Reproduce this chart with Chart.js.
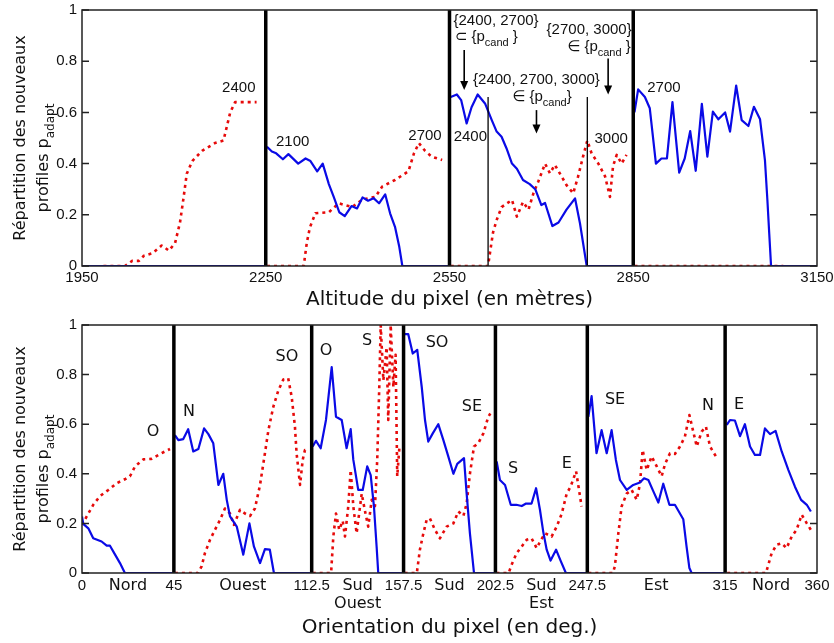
<!DOCTYPE html>
<html>
<head>
<meta charset="utf-8">
<script src="https://cdn.jsdelivr.net/npm/chart.js@4.4.0/dist/chart.umd.min.js"></script>
<style>
  body { margin: 0; background: #fff; }
  canvas { display: block; }
</style>
</head>
<body>
<canvas id="altChart" width="834" height="316"></canvas>
<canvas id="orientChart" width="834" height="327"></canvas>
<script>
// ---- altitude chart (top) ----
const altTicks = [1950, 2250, 2550, 2850, 3150];
const altDividers = [2250, 2550, 2850];
const altThinLines = [2613, 2775];
const altThinTop = 0.66;

const altBlueX = [1950, 2249, 2250,
  2252, 2260, 2267, 2278, 2287, 2303, 2315, 2323, 2334, 2343, 2353, 2361, 2370, 2379, 2390, 2399, 2408, 2417, 2426, 2435, 2445, 2453, 2461, 2468, 2473, 2549, 2550,
  2552, 2562, 2569, 2578, 2586, 2596, 2608, 2619, 2627, 2635, 2643, 2652, 2660, 2670, 2681, 2690, 2700, 2706, 2718, 2728, 2741, 2755, 2763, 2774, 2849, 2850,
  2852, 2858, 2869, 2877, 2887, 2896, 2905, 2914, 2925, 2934, 2943, 2952, 2962, 2971, 2980, 2989, 3000, 3008, 3018, 3027, 3038, 3047, 3057, 3065, 3069, 3072, 3075, 3150];
const altBlueVal = [0, 0, null,
  0.466, 0.447, 0.44, 0.417, 0.437, 0.40, 0.42, 0.41, 0.37, 0.40, 0.32, 0.27, 0.21, 0.195, 0.234, 0.225, 0.268, 0.255, 0.265, 0.245, 0.28, 0.206, 0.153, 0.075, 0, 0, null,
  0.66, 0.67, 0.648, 0.557, 0.62, 0.67, 0.635, 0.57, 0.525, 0.505, 0.46, 0.40, 0.38, 0.336, 0.32, 0.30, 0.238, 0.246, 0.156, 0.17, 0.22, 0.264, 0.167, 0, 0, null,
  0.60, 0.69, 0.66, 0.616, 0.40, 0.42, 0.42, 0.64, 0.365, 0.42, 0.527, 0.372, 0.633, 0.427, 0.603, 0.573, 0.60, 0.525, 0.705, 0.57, 0.547, 0.622, 0.573, 0.414, 0.258, 0.128, 0, 0];

const altRedX = [1985, 2020, 2032, 2043, 2051, 2065, 2080, 2092, 2102, 2110, 2116, 2121, 2130, 2146, 2167, 2181, 2186, 2192, 2200, 2215, 2235, 2250,
  2252, 2312, 2317, 2322, 2331, 2353, 2369, 2391, 2408, 2429, 2440, 2461, 2483, 2492, 2500, 2510, 2521, 2538, 2550,
  2552, 2613, 2616, 2621, 2627, 2635, 2652, 2660, 2670, 2679, 2687, 2695, 2706, 2714, 2722, 2733, 2741, 2752, 2760, 2768, 2775, 2782, 2793, 2804, 2812, 2817, 2823, 2831, 2839, 2850,
  2852, 3095];
const altRedVal = [0, 0, 0.02, 0.02, 0.04, 0.05, 0.08, 0.06, 0.09, 0.17, 0.27, 0.36, 0.41, 0.45, 0.48, 0.49, 0.54, 0.60, 0.64, 0.64, 0.64, null,
  0, 0, 0.09, 0.15, 0.206, 0.21, 0.245, 0.23, 0.26, 0.27, 0.31, 0.336, 0.37, 0.44, 0.48, 0.45, 0.427, 0.414, null,
  0, 0, 0.05, 0.13, 0.18, 0.23, 0.258, 0.193, 0.25, 0.22, 0.284, 0.33, 0.40, 0.362, 0.395, 0.35, 0.316, 0.284, 0.35, 0.427, 0.49, 0.44, 0.40, 0.35, 0.27, 0.39, 0.434, 0.40, 0.434, null,
  0, 0];

// ---- orientation chart (bottom) ----
const orientTicks = [0, 45, 112.5, 157.5, 202.5, 247.5, 315, 360];
const directionPos = [22.5, 78.75, 135, 180, 225, 281.25, 337.5];
const directionNames = ['Nord', 'Ouest', ['Sud', 'Ouest'], 'Sud', ['Sud', 'Est'], 'Est', 'Nord'];
const orientDividers = [45, 112.5, 157.5, 202.5, 247.5, 315];

const orientBlueX = [0, 0.6, 3.1, 5.5, 9.6, 12.1, 13.7, 16.2, 18.6, 21, 44.5, 45,
  45.5, 47.2, 49.6, 52, 54.5, 57, 59.8, 61.9, 64.3, 66.8, 69.2, 70.9, 72.5, 75.8, 79, 82, 84.2, 87.2, 89.6, 92, 94, 112, 112.5,
  113, 114.6, 116.9, 119.5, 122.3, 124.4, 127.2, 129.6, 131.6, 132.9, 135.3, 137.5, 139.7, 141.4, 143, 144.3, 145.1, 157, 157.5,
  158, 159.8, 162, 164.2, 166.4, 168, 169.6, 171.8, 174.5, 177, 179.4, 181.9, 183.8, 187.1, 188.4, 190, 192, 202, 202.5,
  203.1, 204.7, 207.2, 210, 212.7, 215.4, 217.5, 220.2, 222.4, 224.3, 225.9, 227.6, 229.5, 232.2, 234.4, 237, 247, 247.5,
  248, 249.6, 252, 254.5, 257, 259.4, 261.5, 263.5, 266.8, 270, 273.3, 275.3, 277.4, 279.8, 282.3, 284.7, 287.7, 290.4, 294.5, 296.1, 297.5, 298.6, 314.5, 315,
  315.8, 317.4, 319.8, 322.3, 324.7, 327.2, 329.6, 332.1, 334.5, 337, 339.7, 342.7, 346, 349.2, 352.2, 355, 357];
const orientBlueVal = [0.228, 0.198, 0.18, 0.14, 0.127, 0.11, 0.11, 0.074, 0.04, 0, 0, null,
  0.556, 0.536, 0.54, 0.58, 0.49, 0.50, 0.583, 0.56, 0.523, 0.355, 0.40, 0.295, 0.228, 0.187, 0.074, 0.2, 0.107, 0.04, 0.096, 0.094, 0, 0, null,
  0.51, 0.533, 0.503, 0.617, 0.83, 0.63, 0.617, 0.503, 0.58, 0.456, 0.335, 0.335, 0.43, 0.395, 0.268, 0.107, 0, 0, null,
  0.963, 0.963, 0.885, 0.90, 0.75, 0.617, 0.53, 0.563, 0.60, 0.536, 0.47, 0.40, 0.44, 0.463, 0.32, 0.16, 0, 0, null,
  0.45, 0.375, 0.355, 0.275, 0.275, 0.27, 0.28, 0.28, 0.342, 0.255, 0.167, 0.094, 0.05, 0.094, 0.05, 0, 0, null,
  0.63, 0.713, 0.483, 0.576, 0.483, 0.576, 0.456, 0.375, 0.335, 0.355, 0.365, 0.382, 0.375, 0.33, 0.284, 0.36, 0.275, 0.275, 0.217, 0.107, 0.02, 0, 0, null,
  0.597, 0.617, 0.615, 0.552, 0.60, 0.51, 0.476, 0.476, 0.583, 0.56, 0.573, 0.49, 0.415, 0.348, 0.295, 0.275, 0.248];

const orientRedX = [0, 2.3, 5.5, 8.8, 12.9, 17, 21, 23.5, 26, 30, 34, 37.4, 40.6, 43.1, 45,
  45.5, 56.8, 58.6, 60.2, 62.7, 65.1, 67.6, 70, 72.5, 74.4, 77.4, 79.8, 82.3, 84.7, 87.2, 89.6, 91.3, 93.7, 96.2, 98.6, 101, 102.7, 104.3, 105.1, 106.8, 108.1, 109.2, 110.5, 112.5,
  113, 122, 123.1, 124.4, 126, 127.7, 128.8, 130.4, 131.6, 132.9, 134.5, 137, 138.6, 140.2, 141.9, 143.5, 144.6, 145.6, 146.3, 147.6, 149.2, 150, 151.2, 152.5, 153.6, 154.4, 155.5, 157.5,
  158, 164, 165.5, 167.2, 168.8, 170.4, 172.9, 175.3, 178.6, 181.9, 184.3, 186.8, 188.4, 190, 192, 194.1, 196.6, 199, 200, 202.5,
  203, 209, 210.4, 212.9, 215.4, 217.8, 220.2, 222.7, 224.6, 226.8, 230, 232.5, 235, 237.4, 239.3, 242, 243.2, 244.7, 247.5,
  248, 260, 261, 262.7, 264.3, 266.8, 269.2, 271.7, 273.3, 274.6, 276.6, 279, 281.5, 283.9, 285.6, 288, 290.4, 292.9, 295.3, 297.5, 299.4, 301.1, 303.5, 305.6, 307.6, 310.5, 315,
  316, 335, 337.8, 340.2, 342.7, 345.1, 347.6, 350, 352.5, 355, 357];
const orientRedVal = [0.194, 0.228, 0.275, 0.31, 0.335, 0.362, 0.378, 0.39, 0.43, 0.458, 0.46, 0.476, 0.49, 0.50, null,
  0, 0, 0.027, 0.08, 0.134, 0.174, 0.214, 0.26, 0.24, 0.194, 0.255, 0.24, 0.23, 0.26, 0.355, 0.483, 0.576, 0.67, 0.737, 0.78, 0.785, 0.71, 0.59, 0.483, 0.355, 0.456, 0.496, 0.496, null,
  0, 0, 0.147, 0.24, 0.174, 0.21, 0.147, 0.268, 0.415, 0.268, 0.16, 0.32, 0.25, 0.187, 0.295, 0.27, 0.456, 0.75, 1.0, 0.777, 0.91, 0.617, 1.0, 0.75, 0.88, 0.39, 0.51, null,
  0, 0, 0.094, 0.16, 0.214, 0.22, 0.174, 0.14, 0.187, 0.2, 0.248, 0.23, 0.28, 0.40, 0.51, 0.523, 0.563, 0.63, 0.643, null,
  0, 0, 0.033, 0.08, 0.107, 0.134, 0.14, 0.1, 0.13, 0.16, 0.147, 0.187, 0.24, 0.32, 0.348, 0.41, 0.348, 0.268, null,
  0, 0, 0.027, 0.16, 0.268, 0.32, 0.335, 0.295, 0.36, 0.496, 0.415, 0.47, 0.43, 0.39, 0.44, 0.483, 0.48, 0.51, 0.55, 0.637, 0.57, 0.51, 0.57, 0.59, 0.51, 0.47, null,
  0, 0, 0.08, 0.114, 0.12, 0.1, 0.147, 0.174, 0.235, 0.2, 0.174];

const yTicks = [0, 0.2, 0.4, 0.6, 0.8, 1];
const yTitle = ['Répartition des nouveaux', 'profiles p', 'adapt'];

// annotations (data coordinates)
const altLabels = [
  { text: '2400', x: 2206, y: 0.695 }, { text: '2100', x: 2294, y: 0.484 },
  { text: '2700', x: 2510, y: 0.508 }, { text: '2400', x: 2584, y: 0.503 },
  { text: '3000', x: 2814, y: 0.495 }, { text: '2700', x: 2900, y: 0.694 }
];
const altNotes = [
  { x: 2626, y: 0.957, pre: '{2400, 2700}', sub: '', post: '' },
  { x: 2610, y: 0.895, pre: '⊂ {p', sub: 'cand', post: ' }' },
  { x: 2692, y: 0.727, pre: '{2400, 2700, 3000}', sub: '', post: '' },
  { x: 2701, y: 0.661, pre: '∈ {p', sub: 'cand', post: '}' },
  { x: 2778, y: 0.922, pre: '{2700, 3000}', sub: '', post: '' },
  { x: 2794, y: 0.857, pre: '∈ {p', sub: 'cand', post: ' }' }
];
const altArrows = [
  { x: 2574, from: 0.844, to: 0.6875 },
  { x: 2692, from: 0.609, to: 0.518 },
  { x: 2809, from: 0.811, to: 0.67 }
];
const orientLabels = [
  { text: 'O', x: 34.8, y: 0.568 }, { text: 'N', x: 52.4, y: 0.649 },
  { text: 'SO', x: 100.4, y: 0.870 }, { text: 'O', x: 119.5, y: 0.894 },
  { text: 'S', x: 139.6, y: 0.938 }, { text: 'SO', x: 173.9, y: 0.927 },
  { text: 'SE', x: 191, y: 0.669 }, { text: 'S', x: 211.1, y: 0.42 },
  { text: 'E', x: 237.5, y: 0.44 }, { text: 'SE', x: 261.1, y: 0.699 },
  { text: 'N', x: 306.6, y: 0.673 }, { text: 'E', x: 321.8, y: 0.677 }
];

const BLUE = '#0a0ae6';
const RED = '#e60a0a';
const INK = '#111';

Chart.defaults.font.family = '"Liberation Sans", Arial, sans-serif';
Chart.defaults.color = INK;

const pts = (xs, ys) => xs.map((x, i) => ({ x: x, y: ys[i] }));

function drawRich(ctx, x, y, pre, sub, post, size, family, rotate) {
  const small = Math.round(size * 0.72);
  const big = size + 'px ' + family, sm = small + 'px ' + family;
  ctx.save();
  ctx.translate(x, y);
  if (rotate) ctx.rotate(-Math.PI / 2);
  ctx.fillStyle = INK;
  ctx.textBaseline = 'middle';
  ctx.textAlign = 'left';
  ctx.font = big;
  const w1 = ctx.measureText(pre).width, w3 = ctx.measureText(post).width;
  ctx.font = sm;
  const w2 = ctx.measureText(sub).width;
  let cx = -(w1 + w2 + w3) / 2;
  ctx.font = big; ctx.fillText(pre, cx, 0); cx += w1;
  ctx.font = sm; ctx.fillText(sub, cx, size * 0.4); cx += w2;
  ctx.font = big; ctx.fillText(post, cx, 0);
  ctx.restore();
}

const decor = {
  id: 'decor',
  afterDatasetsDraw(chart, args, opts) {
    const { ctx, chartArea: a, scales: { x, y } } = chart;
    ctx.save();
    ctx.strokeStyle = '#222';
    ctx.lineWidth = 1.5;
    ctx.strokeRect(a.left, a.top, a.right - a.left, a.bottom - a.top);
    ctx.beginPath();
    yTicks.forEach(v => {
      const py = y.getPixelForValue(v);
      ctx.moveTo(a.left, py); ctx.lineTo(a.left + 7, py);
      ctx.moveTo(a.right - 7, py); ctx.lineTo(a.right, py);
    });
    ctx.stroke();

    ctx.fillStyle = INK;
    ctx.textAlign = 'center';
    ctx.textBaseline = 'middle';
    ctx.font = opts.labelFont;
    (opts.labels || []).forEach(l => {
      ctx.fillText(l.text, x.getPixelForValue(l.x), y.getPixelForValue(l.y));
    });
    (opts.notes || []).forEach(n => {
      drawRich(ctx, x.getPixelForValue(n.x), y.getPixelForValue(n.y), n.pre, n.sub, n.post, 15, '"Liberation Sans", "DejaVu Sans"', false);
    });
    ctx.strokeStyle = '#000';
    ctx.fillStyle = '#000';
    ctx.lineWidth = 1.6;
    (opts.arrows || []).forEach(ar => {
      const px = x.getPixelForValue(ar.x);
      const y0 = y.getPixelForValue(ar.from), y1 = y.getPixelForValue(ar.to);
      ctx.beginPath(); ctx.moveTo(px, y0); ctx.lineTo(px, y1 - 8); ctx.stroke();
      ctx.beginPath(); ctx.moveTo(px - 4, y1 - 9); ctx.lineTo(px + 4, y1 - 9); ctx.lineTo(px, y1); ctx.closePath(); ctx.fill();
    });
    ctx.restore();
  },
  afterDraw(chart) {
    const a = chart.chartArea;
    const mid = (a.top + a.bottom) / 2;
    drawRich(chart.ctx, 21, mid, yTitle[0], '', '', 16, '"DejaVu Sans"', true);
    drawRich(chart.ctx, 44, mid + 20, yTitle[1], yTitle[2], '', 16, '"DejaVu Sans"', true);
  }
};

function dividers(xs, top, width) {
  return xs.map(v => ({
    data: [{ x: v, y: 0 }, { x: v, y: top }],
    borderColor: '#000', borderWidth: width, pointRadius: 0, order: 0
  }));
}

function series(xs, ys, color, dashed) {
  return {
    data: pts(xs, ys), borderColor: color, borderWidth: dashed ? 2.6 : 2.2,
    borderDash: dashed ? [3, 4] : [], borderJoinStyle: 'round', borderCapStyle: 'butt',
    pointRadius: 0, spanGaps: false, order: dashed ? 2 : 1
  };
}

function yScale() {
  return {
    min: 0, max: 1,
    afterBuildTicks: s => { s.ticks = yTicks.map(v => ({ value: v })); },
    ticks: { font: { size: 15 }, padding: 5, callback: v => String(v) },
    grid: { display: false, drawTicks: false },
    border: { display: false },
    afterFit: s => { s.width = 82; s.paddingTop = 0; s.paddingBottom = 0; }
  };
}

new Chart(document.getElementById('altChart'), {
  type: 'line',
  data: {
    datasets: [
      ...dividers(altDividers, 1, 3.5),
      ...dividers(altThinLines, altThinTop, 1.3),
      series(altBlueX, altBlueVal, BLUE, false),
      series(altRedX, altRedVal, RED, true)
    ]
  },
  options: {
    responsive: false, animation: false,
    elements: { line: { tension: 0 } },
    layout: { padding: { top: 10, right: 17, left: 0, bottom: 0 } },
    plugins: {
      legend: { display: false }, tooltip: { enabled: false },
      decor: { labels: altLabels, notes: altNotes, arrows: altArrows, labelFont: '15px "Liberation Sans"' }
    },
    scales: {
      x: {
        type: 'linear', min: 1950, max: 3150,
        afterBuildTicks: s => { s.ticks = altTicks.map(v => ({ value: v })); },
        ticks: { font: { size: 15 }, padding: 3, maxRotation: 0, autoSkip: false, callback: v => String(v) },
        grid: { display: false, drawTicks: false },
        border: { display: false },
        title: { display: true, text: 'Altitude du pixel (en mètres)', font: { family: '"DejaVu Sans"', size: 20 }, padding: { top: 0, bottom: 4 } },
        afterFit: s => { s.height = 50; s.paddingLeft = 0; s.paddingRight = 0; }
      },
      y: yScale()
    }
  },
  plugins: [decor]
});

new Chart(document.getElementById('orientChart'), {
  type: 'line',
  data: {
    datasets: [
      ...dividers(orientDividers, 1, 3.5),
      series(orientBlueX, orientBlueVal, BLUE, false),
      series(orientRedX, orientRedVal, RED, true)
    ]
  },
  options: {
    responsive: false, animation: false,
    elements: { line: { tension: 0 } },
    layout: { padding: { top: 9, right: 17, left: 0, bottom: 0 } },
    plugins: {
      legend: { display: false }, tooltip: { enabled: false },
      decor: { labels: orientLabels, labelFont: '16px "DejaVu Sans"' }
    },
    scales: {
      x: {
        type: 'linear', min: 0, max: 360,
        afterBuildTicks: s => {
          s.ticks = orientTicks.map(v => ({ value: v }))
            .concat(directionPos.map((v, i) => ({ value: v, dir: i })))
            .sort((p, q) => p.value - q.value);
        },
        ticks: {
          padding: 4, maxRotation: 0, autoSkip: false,
          callback: (v, i, ticks) => ticks[i].dir !== undefined ? directionNames[ticks[i].dir] : String(v),
          font: c => (c.tick && c.tick.dir !== undefined)
            ? { family: '"DejaVu Sans"', size: 16, lineHeight: 1.1 }
            : { family: '"Liberation Sans"', size: 15 }
        },
        grid: { display: false, drawTicks: false },
        border: { display: false },
        title: { display: true, text: 'Orientation du pixel (en deg.)', font: { family: '"DejaVu Sans"', size: 20 }, padding: { top: 0, bottom: 3 } },
        afterFit: s => { s.height = 70; s.paddingLeft = 0; s.paddingRight = 0; }
      },
      y: yScale()
    }
  },
  plugins: [decor]
});
</script>
</body>
</html>
